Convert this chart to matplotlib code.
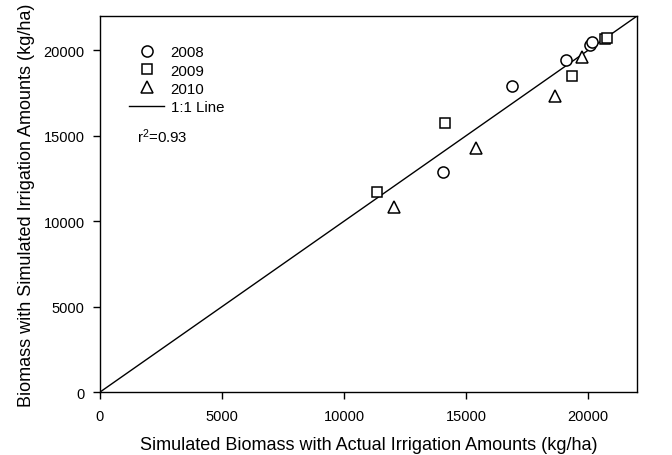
import matplotlib
matplotlib.use("Agg")
import matplotlib.pyplot as plt

plt.rcParams['font.family'] = ['Liberation Sans', 'DejaVu Sans']
plt.rcParams['mathtext.fontset'] = 'custom'
plt.rcParams['mathtext.rm'] = 'Liberation Sans'
plt.rcParams['mathtext.it'] = 'Liberation Sans'

# simulated biomass (kg/ha): actual irrigation vs simulated irrigation
x_2008 = [20080, 20160, 19080, 16890, 14060]
y_2008 = [20320, 20460, 19420, 17900, 12890]

x_2009 = [20690, 20770, 19320, 14130, 11340]
y_2009 = [20650, 20710, 18470, 15720, 11690]

x_2010 = [19730, 18650, 15420, 12060]
y_2010 = [19620, 17300, 14260, 10810]

one_to_one = [0, 22000]
r2_text = r'$\mathregular{r^2}$=0.93'

fig = plt.figure(figsize=(6.72, 4.56), dpi=100)
ax = fig.add_axes([0.1488, 0.138, 0.7992, 0.8247])

ax.plot(x_2008, y_2008, ls='', marker='o', ms=8, mfc='white', mec='black',
        mew=1.1, label='2008')
ax.plot(x_2009, y_2009, ls='', marker='s', ms=7, mfc='white', mec='black',
        mew=1.1, label='2009')
ax.plot(x_2010, y_2010, ls='', marker='^', ms=8, mfc='white', mec='black',
        mew=1.1, label='2010')
ax.plot(one_to_one, one_to_one, color='black', lw=1.0, label='1:1 Line', zorder=1)

ax.set_xlim(0, 22000)
ax.set_ylim(0, 22000)
ax.set_xticks([0, 5000, 10000, 15000, 20000])
ax.set_yticks([0, 5000, 10000, 15000, 20000])
ax.tick_params(direction='out', length=5, width=1, labelsize=10.5, pad=6,
               top=False, right=False)
ax.tick_params(axis='x', pad=7.5)
for sp in ax.spines.values():
    sp.set_linewidth(1.0)

ax.set_xlabel('Simulated Biomass with Actual Irrigation Amounts (kg/ha)',
              fontsize=13, labelpad=9)
ax.set_ylabel('Biomass with Simulated Irrigation Amounts (kg/ha)',
              fontsize=13, labelpad=6)

ax.legend(loc='upper left', bbox_to_anchor=(0.035, 0.95), frameon=False,
          fontsize=10.8, handlelength=2.3, handletextpad=0.45,
          labelspacing=0.28, borderpad=0.2)
ax.text(0.069, 0.683, r2_text, transform=ax.transAxes, fontsize=10.8,
        ha='left', va='center')

fig.savefig('out.png', dpi=100)
